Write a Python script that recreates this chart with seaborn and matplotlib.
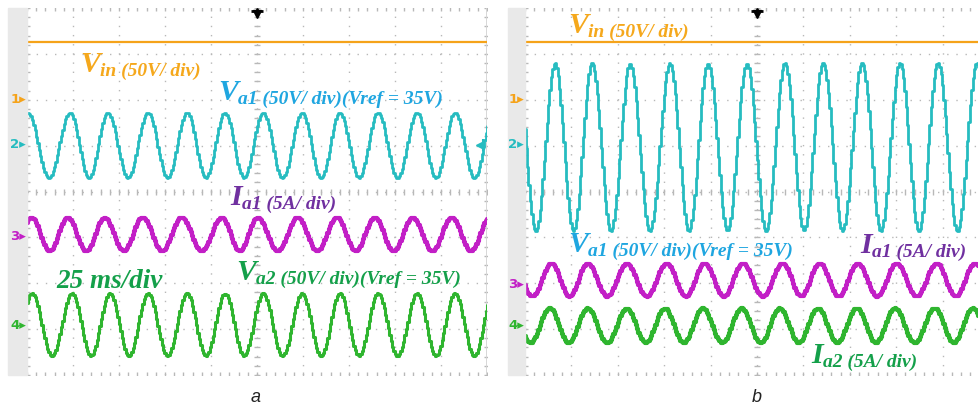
import numpy as np
import pandas as pd
import matplotlib
matplotlib.use("Agg")
import matplotlib.pyplot as plt
from matplotlib.patches import Rectangle
import seaborn as sns

# ---------------- data ----------------
# time in ms (25 ms/div, 10 div), amplitude in screen divisions (8 div, centre = 0)
ms_per_div = 25
n_xdiv = 10
n_ydiv = 8

vin_level_a = 3.26
vin_level_b = 3.26

# panel a : times of the positive peaks (ms) and peak / trough levels (div)
a_va1_peaks = [0.5, 23.4, 44.0, 65.8, 87.0, 107.6, 128.3, 149.5, 170.1, 190.8, 212.0, 232.6]
a_va1_hi, a_va1_lo = 1.72, 0.30
a_ia1_peaks = [2.7, 22.3, 42.4, 63.0, 84.2, 106.0, 125.5, 147.3, 168.5, 189.1, 209.8, 231.0]
a_ia1_hi, a_ia1_lo = -0.57, -1.30
a_va2_peaks = [2.7, 24.5, 45.1, 65.8, 87.0, 107.6, 128.3, 149.5, 170.1, 190.8, 212.0, 232.6]
a_va2_hi, a_va2_lo = -2.22, -3.58

# panel b
b_va1_peaks = [16.2, 36.1, 56.6, 78.1, 98.6, 119.6, 140.1, 160.6, 181.6, 202.0, 222.5, 243.5]
b_va1_hi, b_va1_lo = 2.80, -0.86
b_ia1_peaks = [14.5, 33.9, 55.0, 76.5, 97.0, 117.5, 139.0, 158.9, 179.4, 200.4, 221.9, 242.5]
b_ia1_hi, b_ia1_lo = -1.57, -2.29
b_ia2_peaks = [13.5, 33.9, 55.0, 75.4, 95.9, 116.9, 137.4, 157.9, 178.9, 199.4, 220.9, 241.4]
b_ia2_hi, b_ia2_lo = -2.55, -3.30

channel_names = ["1", "2", "3", "4"]
channel_marks_a = [2.0, 1.02, -0.98, -2.93]
channel_marks_b = [2.0, 1.02, -2.02, -2.93]

panel_captions = ["a", "b"]
time_base_label = "25 ms/div"

# ---------------- style ----------------
C_VIN = "#f5a31a"
C_VA1 = "#26bcc0"
C_IA1 = "#c21fc6"
C_GRN = "#2fb52f"
T_VIN = "#f5a81c"
T_VA1 = "#1fa6e0"
T_IA1 = "#7030a0"
T_GRN = "#14a04a"
GRID_C = "#b8b8b8"
STRIP_C = "#e9e9e9"

W, H = 979, 405
sns.set_theme(style="white")
plt.rcParams["font.family"] = ["DejaVu Sans"]

fig = plt.figure(figsize=(W / 100, H / 100), dpi=100)
fig.patch.set_facecolor("white")


def fx(x):
    return x / W


def fy(y):
    return 1 - y / H


def trace(peaks, hi, lo, t_end, dt=0.75):
    p = np.asarray(peaks, float)
    per = np.mean(np.diff(p))
    while p[0] > 0:
        p = np.r_[p[0] - per, p]
    while p[-1] < t_end:
        p = np.r_[p, p[-1] + per]
    tr = (p[:-1] + p[1:]) / 2
    et = np.empty(len(p) + len(tr))
    et[0::2] = p
    et[1::2] = tr
    ev = np.empty_like(et)
    ev[0::2] = hi
    ev[1::2] = lo
    t = np.arange(0, t_end + dt, dt)
    k = np.clip(np.searchsorted(et, t, side="right") - 1, 0, len(et) - 2)
    frac = (t - et[k]) / (et[k + 1] - et[k])
    w = (1 - np.cos(np.pi * frac)) / 2
    v = ev[k] + (ev[k + 1] - ev[k]) * w
    return pd.DataFrame({"t": t, "v": v})


def make_axes(left_px, width_px):
    top, bottom = 8, 375
    ax = fig.add_axes([fx(left_px), fy(bottom), width_px / W, (bottom - top) / H])
    t_end = n_xdiv * ms_per_div
    ax.set_xlim(0, t_end)
    ax.set_ylim(-n_ydiv / 2, n_ydiv / 2)
    ax.set_facecolor("white")
    for s in ax.spines.values():
        s.set_visible(False)
    ax.set_xticks([])
    ax.set_yticks([])
    dots = (0, (1, 5.6))
    for i in range(1, n_ydiv):
        ax.axhline(i - n_ydiv / 2, color=GRID_C, lw=1.0, ls=dots, zorder=0)
    for j in range(1, n_xdiv):
        ax.axvline(j * ms_per_div, color=GRID_C, lw=1.0, ls=dots, zorder=0)
    xs = np.arange(0, t_end + 0.01, ms_per_div / 5)
    ys = np.arange(-n_ydiv / 2, n_ydiv / 2 + 0.01, 0.2)
    kw = dict(ls="none", color=GRID_C, ms=5, mew=1.0, zorder=0)
    ax.plot(xs, np.zeros_like(xs), marker="|", **kw)
    ax.plot(np.full_like(ys, t_end / 2), ys, marker="_", **kw)
    ax.plot(xs, np.full_like(xs, -n_ydiv / 2), marker="|", **kw)
    ax.plot(xs, np.full_like(xs, n_ydiv / 2), marker="|", **kw)
    ax.plot(np.zeros_like(ys), ys, marker="_", **kw)
    ax.plot(np.full_like(ys, t_end), ys, marker="_", **kw)
    # trigger marker
    ax.plot([t_end / 2], [3.87], marker="v", color="black", ms=6, clip_on=False, zorder=5)
    ax.plot([t_end / 2], [3.93], marker="_", color="black", ms=9, mew=2, clip_on=False, zorder=5)
    ax.plot([t_end / 2, t_end / 2], [3.85, 3.97], color="black", lw=2, zorder=5)
    return ax, t_end


def draw(ax, df, color, lw):
    sns.lineplot(data=df, x="t", y="v", ax=ax, color=color, lw=lw,
                 drawstyle="steps-mid", estimator=None, sort=False, zorder=3)
    ax.set_xlabel("")
    ax.set_ylabel("")


# gray strips on the left of each screen
fig.patches.append(Rectangle((fx(8), fy(375)), 19 / W, 367 / H, transform=fig.transFigure,
                             color=STRIP_C, zorder=0))
fig.patches.append(Rectangle((fx(508), fy(375)), 17 / W, 367 / H, transform=fig.transFigure,
                             color=STRIP_C, zorder=0))

# ---------------- panel a ----------------
axa, te = make_axes(27, 460)
draw(axa, pd.DataFrame({"t": [0, te], "v": [vin_level_a, vin_level_a]}), C_VIN, 1.6)
draw(axa, trace(a_va1_peaks, a_va1_hi, a_va1_lo, te), C_VA1, 2.0)
draw(axa, trace(a_ia1_peaks, a_ia1_hi, a_ia1_lo, te), C_IA1, 3.0)
draw(axa, trace(a_va2_peaks, a_va2_hi, a_va2_lo, te), C_GRN, 2.2)
axa.axvline(te, color="#d4d4d4", lw=2.0, zorder=1)
axa.plot([te - 4], [1.02], marker="<", color=C_VA1, ms=6, zorder=5)
axa.plot([te - 2.2], [1.02], marker="|", color=C_VA1, ms=8, mew=1.5, zorder=5)

# ---------------- panel b ----------------
axb, te = make_axes(525, 464)
draw(axb, pd.DataFrame({"t": [0, te], "v": [vin_level_b, vin_level_b]}), C_VIN, 1.6)
draw(axb, trace(b_va1_peaks, b_va1_hi, b_va1_lo, te), C_VA1, 2.0)
draw(axb, trace(b_ia1_peaks, b_ia1_hi, b_ia1_lo, te), C_IA1, 3.0)
draw(axb, trace(b_ia2_peaks, b_ia2_hi, b_ia2_lo, te), C_GRN, 3.0)

# ---------------- channel markers ----------------
ch_cols = [C_VIN, C_VA1, C_IA1, C_GRN]
for ax, marks, xr in [(axa, channel_marks_a, 26), (axb, channel_marks_b, 524)]:
    for name, lev, col in zip(channel_names, marks, ch_cols):
        ypx = 8 + (n_ydiv / 2 - lev) * 367 / n_ydiv
        fig.text(fx(xr), fy(ypx), name + "\u25B8", color=col, fontsize=9.5,
                 fontweight="bold", ha="right", va="center")

# ---------------- annotations ----------------
SERIF = ["Liberation Serif", "DejaVu Serif"]


def label(x, y, big, sub, color, big_size=21.5, sub_size=14):
    t = fig.text(fx(x), fy(y), big, color=color, fontsize=big_size, family=SERIF,
                 style="italic", fontweight="bold", ha="left", va="baseline")
    fig.canvas.draw()
    bb = t.get_window_extent()
    fig.text((bb.x1 + 0.5) / W, fy(y + 4), sub, color=color, fontsize=sub_size, family=SERIF,
             style="italic", fontweight="bold", ha="left", va="baseline")


label(80, 72, "V", "in (50V/ div)", T_VIN)
label(218, 100, "V", "a1 (50V/ div)(Vref = 35V)", T_VA1)
label(230, 205, "I", "a1 (5A/ div)", T_IA1)
label(236, 280, "V", "a2 (50V/ div)(Vref = 35V)", T_GRN)
fig.text(fx(56), fy(288), time_base_label, color=T_GRN, fontsize=19.5, family=SERIF,
         style="italic", fontweight="bold", ha="left", va="baseline")

label(568, 33, "V", "in (50V/ div)", T_VIN)
label(568, 252, "V", "a1 (50V/ div)(Vref = 35V)", T_VA1)
label(860, 253, "I", "a1 (5A/ div)", T_IA1)
label(811, 363, "I", "a2 (5A/ div)", T_GRN)

for cx, cap in zip([256, 757], panel_captions):
    fig.text(fx(cx), fy(397), cap, fontsize=13, style="italic", ha="center", va="center",
             family=["Liberation Sans", "DejaVu Sans"], color="#222222")

fig.savefig("out.png", dpi=100)
